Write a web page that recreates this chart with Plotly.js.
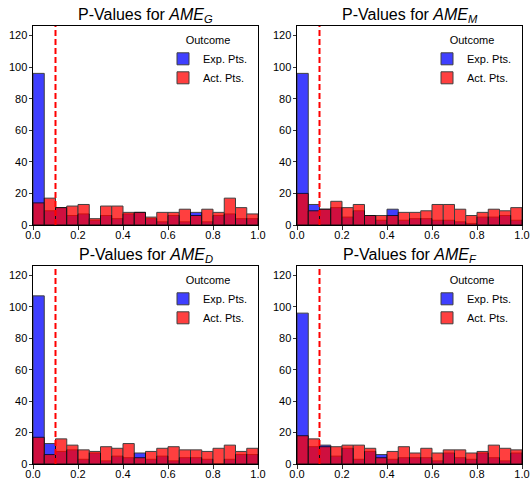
<!DOCTYPE html>
<html>
<head>
<meta charset="utf-8">
<script src="https://cdn.plot.ly/plotly-3.0.1.min.js"></script>
<style>html,body{margin:0;padding:0;background:#fff;}#chart{width:532px;height:479px;}</style>
</head>
<body>
<div id="chart"></div>
<script>
// Bin centers (bin width 0.05 over [0,1])
const binCenters = [0.025,0.075,0.125,0.175,0.225,0.275,0.325,0.375,0.425,0.475,
                    0.525,0.575,0.625,0.675,0.725,0.775,0.825,0.875,0.925,0.975];
const binWidth = 0.05;
const threshold = 0.1;

// Counts per bin
const expG = [96, 9, 11, 6, 7, 3, 6, 4, 7, 8, 4, 2, 6, 2, 8, 2, 6, 7, 4, 4];
const actG = [14, 17, 11, 12, 13, 4, 12, 12, 8, 8, 5, 8, 8, 10, 6, 10, 8, 17, 11, 7];

const expM = [96, 13, 10, 11, 5, 9, 6, 3, 10, 3, 4, 4, 3, 3, 2, 1, 5, 5, 6, 3];
const actM = [20, 9, 10, 15, 11, 13, 6, 6, 6, 8, 8, 9, 13, 13, 10, 6, 8, 10, 9, 11];

const expD = [107, 13, 8, 9, 3, 7, 2, 5, 4, 7, 3, 5, 2, 4, 4, 3, 0, 3, 6, 6];
const actD = [17, 6, 16, 12, 9, 8, 11, 10, 13, 4, 8, 10, 11, 9, 9, 8, 10, 12, 8, 10];

const expF = [96, 11, 12, 5, 10, 3, 8, 6, 3, 4, 4, 4, 2, 7, 4, 3, 7, 4, 2, 7];
const actF = [18, 16, 11, 11, 12, 12, 10, 4, 8, 11, 7, 10, 7, 9, 9, 7, 8, 12, 10, 9];

const subscripts = ['G', 'M', 'D', 'F'];
const seriesNames = ['Exp. Pts.', 'Act. Pts.'];
const legendTitle = 'Outcome';
const xTicks = [0, 0.2, 0.4, 0.6, 0.8, 1.0];
const yTicks = [0, 20, 40, 60, 80, 100, 120];

const panels = [
  {exp: expG, act: actG},
  {exp: expM, act: actM},
  {exp: expD, act: actD},
  {exp: expF, act: actF}
];

const W = 532, H = 479;
const xDomains = [[33/W, 258/W], [297/W, 522/W], [33/W, 258/W], [297/W, 522/W]];
const yDomains = [[(H-225)/H, (H-26)/H], [(H-225)/H, (H-26)/H], [(H-464)/H, (H-266)/H], [(H-464)/H, (H-266)/H]];

const FONT = 'Liberation Sans, Arial, Helvetica, sans-serif';
const traces = [];
const layout = {
  width: W, height: H,
  margin: {l: 0, r: 0, t: 0, b: 0},
  paper_bgcolor: '#fff', plot_bgcolor: '#fff',
  barmode: 'overlay',
  font: {family: FONT, size: 11, color: '#000'},
  shapes: [], annotations: []
};

panels.forEach((p, i) => {
  const n = i + 1;
  const sfx = n === 1 ? '' : String(n);
  const legName = 'legend' + sfx;
  traces.push({
    type: 'bar', x: binCenters, y: p.exp, width: binWidth,
    name: seriesNames[0],
    xaxis: 'x' + sfx, yaxis: 'y' + sfx, legend: legName,
    marker: {color: 'rgb(0,0,255)', line: {color: '#000', width: 1}},
    opacity: 0.75, hoverinfo: 'skip'
  });
  traces.push({
    type: 'bar', x: binCenters, y: p.act, width: binWidth,
    name: seriesNames[1],
    xaxis: 'x' + sfx, yaxis: 'y' + sfx, legend: legName,
    marker: {color: 'rgb(255,0,0)', line: {color: '#000', width: 1}},
    opacity: 0.75, hoverinfo: 'skip'
  });
  layout['xaxis' + sfx] = {
    domain: xDomains[i], anchor: 'y' + sfx, range: [0, 1],
    tickvals: xTicks, tickformat: '.1f',
    ticks: 'outside', ticklen: 3.5, tickwidth: 0.8, tickcolor: '#000',
    ticklabelstandoff: -4,
    showline: true, linecolor: '#000', linewidth: 1, mirror: true,
    showgrid: false, zeroline: false,
    tickfont: {family: FONT, size: 11, color: '#000'}
  };
  layout['yaxis' + sfx] = {
    domain: yDomains[i], anchor: 'x' + sfx, range: [0, 126],
    tickvals: yTicks,
    ticks: 'outside', ticklen: 3.5, tickwidth: 0.8, tickcolor: '#000',
    ticklabelstandoff: -1,
    showline: true, linecolor: '#000', linewidth: 1, mirror: true,
    showgrid: false, zeroline: false,
    tickfont: {family: FONT, size: 11, color: '#000'}
  };
  layout[legName] = {
    x: xDomains[i][1] - 95/W, xanchor: 'left',
    y: yDomains[i][1] - 4/H, yanchor: 'top',
    bgcolor: 'rgba(0,0,0,0)', borderwidth: 0,
    title: {text: legendTitle, side: 'top center', font: {family: FONT, size: 11, color: '#000'}},
    font: {family: FONT, size: 11, color: '#000'},
    traceorder: 'normal'
  };
  layout.shapes.push({
    type: 'line', xref: 'x' + sfx, yref: 'y' + sfx + ' domain',
    x0: threshold, x1: threshold, y0: 0, y1: 1,
    line: {color: 'rgb(255,0,0)', width: 2, dash: '6px,3px'},
    layer: 'above'
  });
  layout.annotations.push({
    xref: 'paper', yref: 'paper',
    x: (xDomains[i][0] + xDomains[i][1]) / 2,
    y: yDomains[i][1] - 1/H, yanchor: 'bottom', xanchor: 'center',
    showarrow: false,
    text: 'P-Values for <i>AME</i><sub><i>' + subscripts[i] + '</i></sub>',
    font: {family: FONT, size: 16, color: '#000'}
  });
});

Plotly.newPlot('chart', traces, layout, {displayModeBar: false, staticPlot: true});
</script>
</body>
</html>
